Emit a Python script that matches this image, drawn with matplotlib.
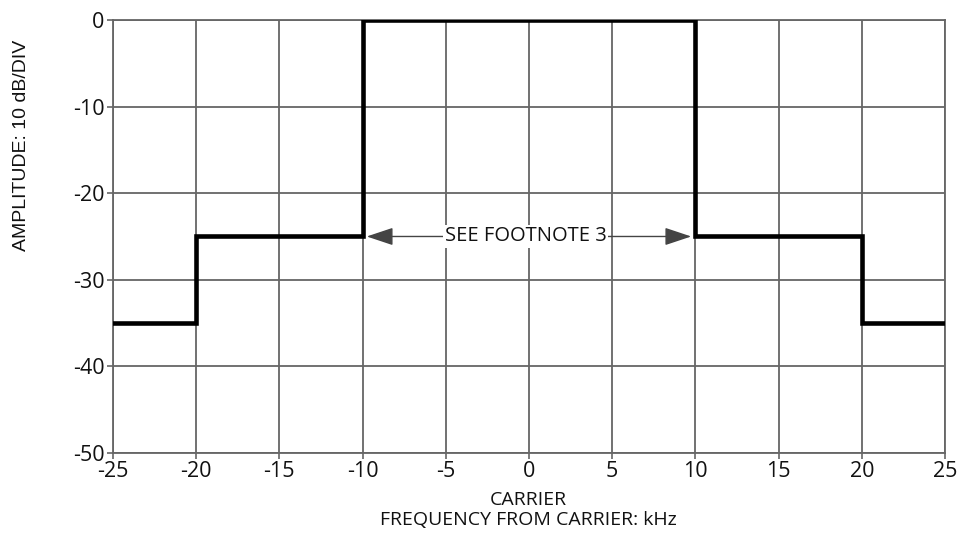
import matplotlib
matplotlib.use('Agg')
import matplotlib.pyplot as plt

# mask breakpoints (kHz from carrier) and level (dB)
freq = [-25, -20, -10, 10, 20, 25]
level = [-35, -25, 0, -25, -35, -35]
x_ticks = [-25, -20, -15, -10, -5, 0, 5, 10, 15, 20, 25]
y_ticks = [0, -10, -20, -30, -40, -50]
note = 'SEE FOOTNOTE 3'

plt.rcParams['font.family'] = ['Open Sans', 'DejaVu Sans']
plt.rcParams['axes.unicode_minus'] = False

fig = plt.figure(figsize=(9.63, 5.36), dpi=100)
ax = fig.add_axes([0.1173, 0.1549, 0.864, 0.8078])

ax.step(freq, level, where='post', color='black', lw=3.3, zorder=3,
        solid_joinstyle='miter')

ax.set_xlim(-25, 25)
ax.set_ylim(-50, 0)
ax.set_xticks(x_ticks)
ax.set_yticks(y_ticks)
ax.grid(True, color='#666666', lw=1.3)
for s in ax.spines.values():
    s.set_color('#666666')
    s.set_linewidth(1.3)
ax.tick_params(colors='#666666', labelcolor='#111111', labelsize=15.5, length=4, width=1.2, pad=2)

# double arrow between the -10 and +10 kHz edges
ax.annotate('', xy=(-10, -25), xytext=(10, -25),
            arrowprops=dict(arrowstyle='<|-|>,head_length=0.75,head_width=0.25',
                            color='#444444', lw=1.0,
                            mutation_scale=22, shrinkA=3, shrinkB=3), zorder=4)
ax.text(-0.2, -25, note, ha='center', va='center', fontsize=14.5, color='#111111',
        bbox=dict(facecolor='white', edgecolor='none', pad=1), zorder=5)

fig.text(22 / 963, 1 - 145 / 536, 'AMPLITUDE: 10 dB/DIV', rotation=90,
         ha='center', va='center', fontsize=14, color='#111111',
         family=['Liberation Sans', 'DejaVu Sans'])
fig.text(528 / 963, 1 - 500 / 536, 'CARRIER', ha='center', va='center',
         fontsize=14, color='#111111')
fig.text(528 / 963, 1 - 520 / 536, 'FREQUENCY FROM CARRIER: kHz', ha='center',
         va='center', fontsize=14, color='#111111')

fig.savefig('out.png', dpi=100, facecolor='white')
